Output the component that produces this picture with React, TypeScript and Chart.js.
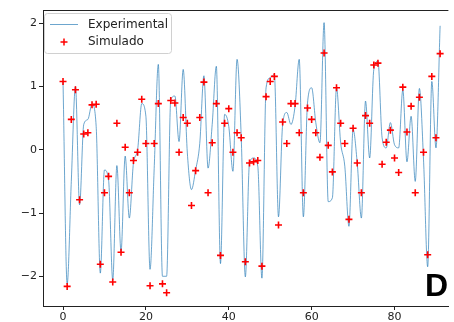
import React, { useEffect, useRef } from 'react';
import { Chart, registerables } from 'chart.js';
Chart.register(...registerables);

const experimental = [
  1.08, -2.12, -0.5, 1.0, -0.87, 0.4, 0.48, 0.72, 0.37, -1.95,
  -0.32, -0.48, -2.06, -0.25, -1.61, -0.1, -1.08, -0.21, 0.0, 0.73,
  0.53, -1.89, -0.3, 1.35, -2.0, -2.0, 0.79, 0.85, 0.13, 1.27,
  -0.05, -0.63, -0.32, 0.1, 1.17, -0.29, 0.4, 1.32, -1.8, 0.56,
  0.37, -0.34, 1.43, 0.21, -2.01, -0.21, -0.13, -0.26, -2.03, 0.98,
  1.14, 1.19, -1.06, 0.4, 0.59, 0.4, 0.69, 1.43, -1.06, 0.74,
  0.98, 0.43, 0.11, 2.01, -0.82, -0.76, 0.98, 0.11, -0.26, -1.21,
  0.32, -0.21, -1.08, 0.77, -0.13, 1.27, 1.4, 0.19, 0.03, 0.43,
  0.08, 0.03, 0.95, -0.19, 0.53, -0.5, 0.97, -0.16, -1.85, 1.08,
  0.03, 1.96,
];

const simulado = [
  1.08, -2.16, 0.48, 0.95, -0.79, 0.25, 0.27, 0.71, 0.72, -1.81,
  -0.68, -0.42, -2.09, 0.42, -1.62, 0.04, -0.68, -0.17, -0.04, 0.8,
  0.1, -2.15, 0.1, 0.73, -2.12, -2.26, 0.78, 0.74, -0.04, 0.51,
  0.42, -0.88, -0.33, 0.51, 1.07, -0.68, 0.11, 0.73, -1.67, 0.42,
  0.65, -0.04, 0.27, 0.19, -1.77, -0.21, -0.19, -0.17, -1.84, 0.84,
  1.08, 1.16, -1.19, 0.44, 0.1, 0.73, 0.73, 0.27, -0.68, 0.66,
  0.48, 0.27, -0.12, 1.53, 0.07, -0.35, 0.98, 0.42, 0.1, -1.1,
  0.34, -0.21, -0.68, 0.54, 0.42, 1.34, 1.37, -0.23, 0.12, 0.31,
  -0.13, -0.36, 0.99, 0.28, 0.69, -0.68, 0.83, -0.04, -1.66, 1.16,
  0.19, 1.52,
];

const xTicks = [0, 20, 40, 60, 80];
const yTicks = [-2, -1, 0, 1, 2];
const legendLabels = ['Experimental', 'Simulado'];
const panelLabel = 'D';

const LINE_COLOR = 'rgba(31,119,180,0.65)';
const MARK_COLOR = '#ff0000';
const AXIS_COLOR = '#222';

export default function App() {
  const ref = useRef<HTMLCanvasElement>(null);

  useEffect(() => {
    document.body.style.margin = '0';
    const overlay = {
      id: 'overlay',
      afterDraw(chart: any) {
        const { ctx, chartArea } = chart;
        const { left, top, right } = chartArea;
        ctx.save();
        // top spine
        ctx.strokeStyle = AXIS_COLOR;
        ctx.lineWidth = 1;
        ctx.beginPath();
        ctx.moveTo(left, Math.round(top) + 0.5);
        ctx.lineTo(right, Math.round(top) + 0.5);
        ctx.stroke();

        // legend box
        const bx = 44.5, by = 13.5, bw = 127, bh = 40, r = 3;
        ctx.beginPath();
        ctx.moveTo(bx + r, by);
        ctx.lineTo(bx + bw - r, by);
        ctx.quadraticCurveTo(bx + bw, by, bx + bw, by + r);
        ctx.lineTo(bx + bw, by + bh - r);
        ctx.quadraticCurveTo(bx + bw, by + bh, bx + bw - r, by + bh);
        ctx.lineTo(bx + r, by + bh);
        ctx.quadraticCurveTo(bx, by + bh, bx, by + bh - r);
        ctx.lineTo(bx, by + r);
        ctx.quadraticCurveTo(bx, by, bx + r, by);
        ctx.closePath();
        ctx.fillStyle = 'rgba(255,255,255,0.85)';
        ctx.fill();
        ctx.strokeStyle = '#d0d0d0';
        ctx.stroke();

        // line sample
        ctx.strokeStyle = LINE_COLOR;
        ctx.lineWidth = 1;
        ctx.beginPath();
        ctx.moveTo(50, 24.5);
        ctx.lineTo(78, 24.5);
        ctx.stroke();
        // cross sample
        ctx.strokeStyle = MARK_COLOR;
        ctx.lineWidth = 1.5;
        ctx.beginPath();
        ctx.moveTo(64, 38.5);
        ctx.lineTo(64, 45.5);
        ctx.moveTo(60.5, 42);
        ctx.lineTo(67.5, 42);
        ctx.stroke();

        ctx.fillStyle = AXIS_COLOR;
        ctx.font = '12px "DejaVu Sans"';
        ctx.textBaseline = 'middle';
        ctx.textAlign = 'left';
        ctx.fillText(legendLabels[0], 88, 25);
        ctx.fillText(legendLabels[1], 88, 42);

        // panel label
        ctx.fillStyle = '#000';
        ctx.font = 'bold 32px "Liberation Sans"';
        ctx.textBaseline = 'alphabetic';
        ctx.fillText(panelLabel, 425, 296);
        ctx.restore();
      },
    };

    const chart = new Chart(ref.current as HTMLCanvasElement, {
      type: 'line',
      data: {
        datasets: [
          {
            label: legendLabels[1],
            data: simulado.map((y, i) => ({ x: i, y })),
            showLine: false,
            pointStyle: 'cross',
            pointRadius: 3.5,
            pointBorderWidth: 1.6,
            pointBorderColor: MARK_COLOR,
            pointBackgroundColor: MARK_COLOR,
            borderColor: MARK_COLOR,
            order: 0,
          },
          {
            label: legendLabels[0],
            data: experimental.map((y, i) => ({ x: i, y })),
            borderColor: LINE_COLOR,
            borderWidth: 1,
            pointRadius: 0,
            cubicInterpolationMode: 'monotone',
            fill: false,
            order: 1,
          },
        ],
      },
      options: {
        responsive: false,
        animation: false,
        events: [],
        layout: { padding: { top: 10, left: 0, right: 0, bottom: 0 } },
        plugins: { legend: { display: false }, tooltip: { enabled: false }, title: { display: false } },
        scales: {
          x: {
            type: 'linear',
            min: -4.83,
            max: 93,
            afterBuildTicks: (s: any) => {
              s.ticks = xTicks.map((v) => ({ value: v }));
            },
            afterFit: (s: any) => {
              s.height = 16;
            },
            grid: { display: true, drawOnChartArea: false, drawTicks: true, tickLength: 4, color: AXIS_COLOR },
            border: { display: true, color: AXIS_COLOR, width: 1 },
            ticks: {
              color: AXIS_COLOR,
              font: { family: 'DejaVu Sans', size: 11 },
              padding: 1,
              maxRotation: 0,
              autoSkip: false,
              callback: (v: any) => String(v),
            },
          },
          y: {
            type: 'linear',
            min: -2.47,
            max: 2.21,
            afterBuildTicks: (s: any) => {
              s.ticks = yTicks.map((v) => ({ value: v }));
            },
            afterFit: (s: any) => {
              s.width = 43;
            },
            grid: { display: true, drawOnChartArea: false, drawTicks: true, tickLength: 4, color: AXIS_COLOR },
            border: { display: true, color: AXIS_COLOR, width: 1 },
            ticks: {
              color: AXIS_COLOR,
              font: { family: 'DejaVu Sans', size: 11 },
              padding: 2,
              autoSkip: false,
              callback: (v: any) => (v < 0 ? '\u2212' + Math.abs(v) : String(v)),
            },
          },
        },
      },
      plugins: [overlay],
    } as any);
    return () => chart.destroy();
  }, []);

  return (
    <div style={{ position: 'absolute', left: 0, top: 0, width: 454, height: 322, overflow: 'hidden' }}>
      <canvas ref={ref} width={454} height={322} style={{ display: 'block' }} />
    </div>
  );
}
